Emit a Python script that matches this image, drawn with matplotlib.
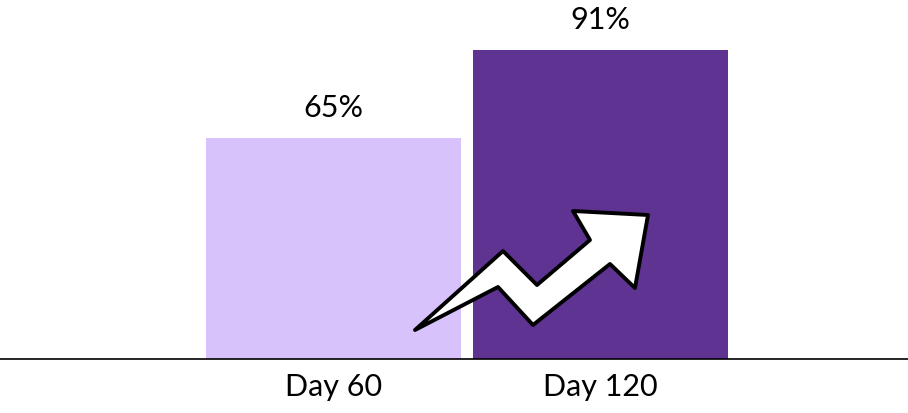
import numpy as np
import matplotlib.pyplot as plt
from matplotlib.patches import Polygon

plt.rcParams['font.family'] = ['Lato', 'DejaVu Sans']

days = ["Day 60", "Day 120"]
values = [65, 91]
colors = ["#D8C2FC", "#5F3391"]

W, H = 908, 413
fig = plt.figure(figsize=(W / 100, H / 100), dpi=100)
ax = fig.add_axes([0, 54 / H, 1, 1 - 54 / H])

x = np.arange(len(days))
bars = ax.bar(x, values, width=0.955, color=colors, zorder=2)

for b, v in zip(bars, values):
    ax.annotate(f"{v}%", (b.get_x() + b.get_width() / 2, v),
                xytext=(0, 15), textcoords="offset points",
                ha="center", va="baseline", fontsize=22)

ax.set_xlim(-1.249, 2.152)
ax.set_ylim(0, 359 / 3.4)
ax.set_xticks(x)
ax.set_xticklabels(days, fontsize=22)
ax.tick_params(axis="x", length=0, pad=10)
ax.set_yticks([])
for s in ["top", "left", "right"]:
    ax.spines[s].set_visible(False)
ax.spines["bottom"].set_linewidth(1.2)

# zigzag "growth" arrow, outline in pixels from the top-left corner
arrow_px = [(415, 330), (503, 251), (537, 285), (590, 240), (573, 211),
            (648, 215), (635, 288), (610, 264), (533, 325), (498, 287)]
arrow = Polygon([(px / W, 1 - py / H) for px, py in arrow_px], closed=True,
                transform=fig.transFigure, facecolor="white", edgecolor="black",
                linewidth=2.8, joinstyle="round", zorder=5)
fig.patches.append(arrow)

plt.savefig("out.png", dpi=100)
